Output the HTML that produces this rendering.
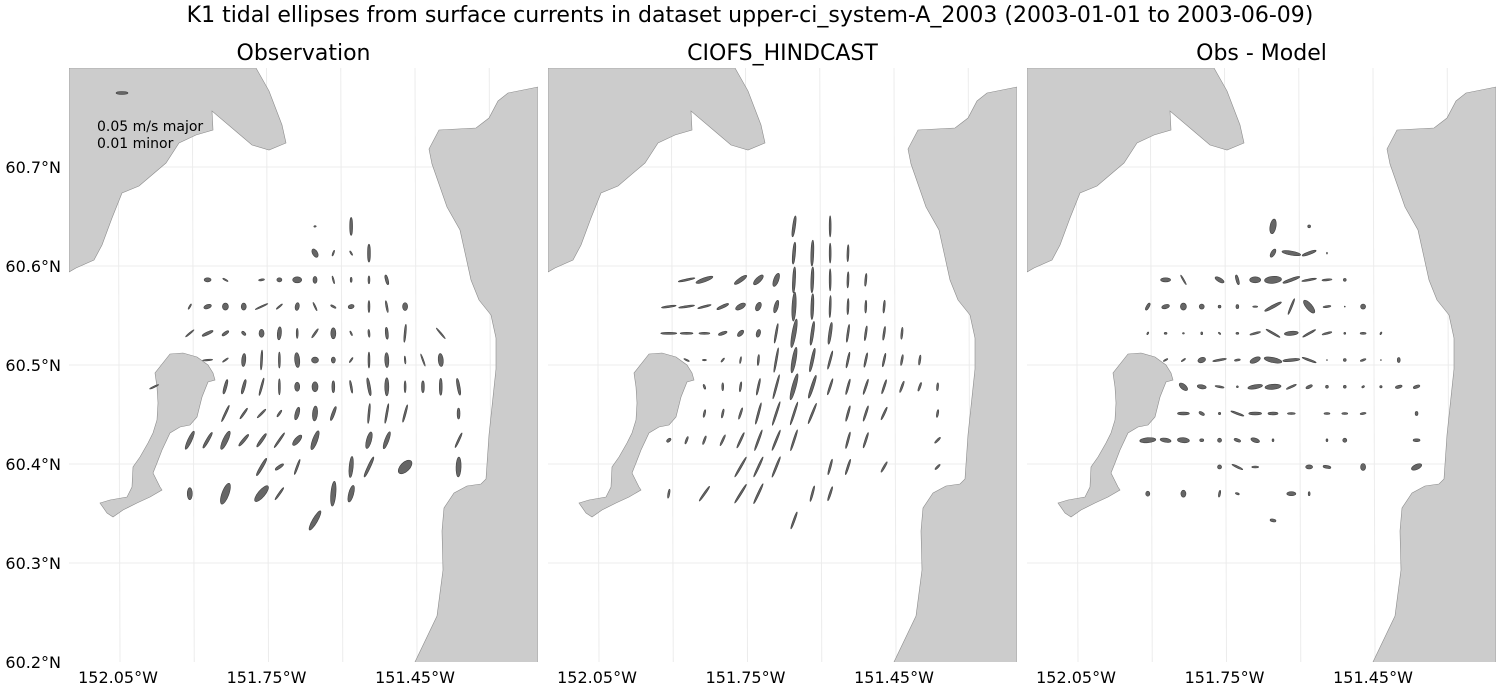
<!DOCTYPE html>
<html><head><meta charset="utf-8"><style>
html,body{margin:0;padding:0;background:#fff;}
svg{display:block;font-family:"DejaVu Sans","Liberation Sans",sans-serif;}
</style></head><body>
<svg id="fig" width="1500" height="700" viewBox="0 0 1500 700">
<text x="750" y="22" font-size="22" text-anchor="middle">K1 tidal ellipses from surface currents in dataset upper-ci_system-A_2003 (2003-01-01 to 2003-06-09)</text>
</svg>
<script>
const panelTitles = ["Observation", "CIOFS_HINDCAST", "Obs - Model"];
const latTicks = [60.7, 60.6, 60.5, 60.4, 60.3, 60.2];
const latTickLabels = ["60.7°N","60.6°N","60.5°N","60.4°N","60.3°N","60.2°N"];
const lonTicks = [-152.05, -151.75, -151.45];
const lonTickLabels = ["152.05°W","151.75°W","151.45°W"];
const lonGrid = [-152.05,-151.9,-151.75,-151.6,-151.45,-151.3];
const latGrid = [60.7,60.6,60.5,60.4,60.3];
// grid node coordinates, col index -2..15 (offset 2), row index 0..11
const gridLons = [-151.977,-151.941,-151.905,-151.869,-151.833,-151.796,-151.760,-151.724,-151.688,-151.652,-151.615,-151.579,-151.543,-151.507,-151.470,-151.434,-151.398,-151.362];
const gridLats = [60.640,60.613,60.586,60.559,60.532,60.505,60.478,60.451,60.424,60.397,60.370,60.343];
// [col,row,major(cm/s),minor(cm/s),angle deg ccw from east]
const obsEllipses = [
[7,0,1.0,0.6,10],[9,0,7.5,1.2,90],
[7,1,3.8,2.1,120],[8,1,2.5,0.6,70],[9,1,2.1,0.6,120],[10,1,7.5,1.2,90],
[1,2,2.9,1.7,0],[2,2,2.5,0.6,150],[4,2,2.5,0.8,10],[5,2,2.1,1.7,0],[6,2,3.8,2.5,0],[7,2,2.9,1.7,90],[8,2,3.3,0.6,105],[9,2,2.1,0.8,90],[10,2,3.3,0.8,90],[11,2,4.2,1.2,105],
[0,3,2.5,0.6,60],[1,3,3.3,1.7,20],[2,3,2.9,2.5,90],[3,3,2.9,2.1,90],[4,3,5.8,0.6,25],[5,3,3.3,0.6,40],[6,3,3.3,1.7,80],[7,3,3.8,0.6,115],[8,3,2.5,0.8,150],[9,3,2.5,1.7,15],[10,3,5.0,0.8,90],[11,3,5.0,0.8,100],[12,3,3.3,2.1,90],
[0,4,4.6,0.6,40],[1,4,5.0,1.2,25],[2,4,3.3,1.2,35],[3,4,2.1,1.2,135],[4,4,3.3,2.1,90],[5,4,5.4,1.7,85],[6,4,4.2,0.8,90],[7,4,4.6,0.8,55],[8,4,4.6,2.1,90],[9,4,2.1,0.6,115],[10,4,3.3,0.8,95],[11,4,5.0,1.2,95],[12,4,7.5,0.8,85],[14,4,5.8,0.6,130],
[1,5,4.2,0.6,5],[2,5,2.9,0.6,35],[3,5,5.4,1.7,85],[4,5,8.3,0.8,87],[5,5,6.7,0.8,90],[6,5,6.2,2.1,95],[7,5,2.9,2.5,0],[8,5,2.5,1.7,90],[9,5,2.5,0.6,55],[10,5,6.7,0.8,90],[11,5,6.2,1.7,92],[12,5,3.3,0.6,95],[13,5,5.4,0.6,110],[14,5,5.4,2.1,95],
[-2,6,4.2,0.6,25],[2,6,6.2,1.2,75],[3,6,6.2,1.2,75],[4,6,7.5,0.8,75],[5,6,6.7,0.8,90],[6,6,3.8,2.1,90],[7,6,4.2,2.5,90],[8,6,5.0,1.2,90],[9,6,5.4,0.8,100],[10,6,7.5,1.2,100],[11,6,7.5,1.7,90],[12,6,5.0,0.8,90],[13,6,5.0,1.2,90],[14,6,7.1,1.2,90],[15,6,7.1,1.2,100],
[2,7,7.5,0.8,65],[3,7,5.4,0.8,55],[4,7,5.0,0.8,45],[5,7,3.3,0.8,55],[6,7,5.4,1.7,75],[7,7,6.2,2.1,85],[8,7,6.2,1.2,70],[10,7,8.3,0.8,85],[11,7,8.3,0.8,80],[12,7,7.5,0.8,75],[15,7,4.6,1.2,90],
[0,8,8.3,1.7,65],[1,8,7.5,1.2,60],[2,8,8.3,2.1,65],[3,8,6.2,1.2,50],[4,8,6.7,1.2,55],[5,8,7.5,0.8,55],[6,8,5.4,2.1,50],[7,8,8.3,2.1,70],[10,8,7.1,2.1,75],[11,8,7.5,1.7,70],[15,8,6.7,0.8,65],
[4,9,8.3,1.2,60],[5,9,4.2,1.2,35],[6,9,6.7,0.8,70],[9,9,8.8,1.7,85],[10,9,9.2,1.2,65],[12,9,7.1,3.8,45],[15,9,8.3,2.1,88],
[0,10,5.0,2.1,90],[2,10,9.2,2.9,70],[4,10,8.3,2.9,50],[5,10,6.2,0.8,55],[8,10,10.4,2.1,85],[9,10,7.1,2.1,75],
[7,11,9.2,2.1,60]
];
const modelEllipses = [
[7,0,8.8,1.2,82],[9,0,8.8,0.8,90],
[7,1,9.2,1.2,85],[8,1,10.8,1.2,88],[9,1,8.3,0.8,90],[10,1,7.1,0.8,88],
[1,2,7.1,0.8,12],[2,2,7.5,1.7,20],[4,2,6.2,1.7,35],[5,2,5.4,2.1,45],[6,2,5.8,2.1,70],[7,2,10.8,1.2,87],[8,2,10.8,1.2,88],[9,2,9.2,0.8,90],[10,2,6.7,0.8,88],[11,2,5.4,0.8,85],
[0,3,6.2,0.8,8],[1,3,6.7,0.8,8],[2,3,5.8,0.8,15],[3,3,5.4,1.2,25],[4,3,4.6,2.1,30],[5,3,3.8,2.1,65],[6,3,5.4,1.7,75],[7,3,12.1,1.7,87],[8,3,10.8,1.2,88],[9,3,9.2,0.8,88],[10,3,6.7,0.8,88],[11,3,5.4,0.8,88],[12,3,5.4,0.8,85],
[0,4,6.7,0.8,0],[1,4,5.4,0.8,0],[2,4,4.6,0.8,0],[3,4,3.8,1.2,20],[4,4,3.3,1.7,45],[5,4,3.3,1.7,75],[6,4,8.3,0.8,80],[7,4,12.1,1.7,80],[8,4,10,1.2,82],[9,4,9.2,1.2,82],[10,4,7.5,0.8,82],[11,4,6.2,0.8,82],[12,4,5.8,0.8,82],[13,4,5.0,0.8,85],
[1,5,2.5,0.6,155],[2,5,1.7,0.6,0],[3,5,2.1,0.6,50],[4,5,2.9,0.6,80],[5,5,4.6,0.8,85],[6,5,10.4,0.8,80],[7,5,10.8,1.7,80],[8,5,10,1.2,78],[9,5,7.9,0.8,75],[10,5,6.7,0.8,78],[11,5,6.2,0.8,78],[12,5,5.8,0.8,78],[13,5,4.6,0.8,80],[14,5,4.2,0.8,82],
[2,6,2.1,0.8,110],[3,6,3.3,0.8,90],[4,6,4.2,0.8,82],[5,6,7.1,0.8,78],[6,6,10.4,0.8,75],[7,6,11.2,1.7,75],[8,6,10,1.2,72],[9,6,7.1,0.8,72],[10,6,6.7,0.8,75],[11,6,6.7,0.8,72],[12,6,6.2,0.8,72],[13,6,5.0,0.8,70],[14,6,3.8,0.8,70],[15,6,3.3,0.8,85],
[2,7,3.3,0.8,78],[3,7,3.8,0.8,78],[4,7,5.0,0.8,72],[5,7,9.2,0.8,75],[6,7,10.4,0.8,72],[7,7,10,0.8,72],[8,7,9.2,0.8,68],[10,7,6.7,0.8,75],[11,7,6.7,0.8,72],[12,7,5.8,0.8,65],[15,7,3.3,0.8,80],
[0,8,2.1,1.2,40],[1,8,3.3,0.8,70],[2,8,3.8,0.8,70],[3,8,5.0,0.8,65],[4,8,7.1,0.8,65],[5,8,9.2,0.8,70],[6,8,9.2,0.8,68],[7,8,9.2,0.8,72],[10,8,7.1,0.8,75],[11,8,6.7,0.8,72],[15,8,3.3,0.8,45],
[4,9,9.6,0.8,60],[5,9,9.2,0.8,65],[6,9,9.2,0.8,68],[9,9,6.7,0.8,75],[10,9,6.7,0.8,72],[12,9,5.0,0.8,60],[15,9,2.9,0.8,45],
[0,10,3.8,0.8,80],[2,10,7.5,0.8,55],[4,10,9.2,0.8,58],[5,10,9.2,0.8,65],[8,10,6.7,0.8,75],[9,10,6.2,0.8,72],
[7,11,7.5,0.8,70]
];
const diffEllipses = [
[7,0,6.2,2.5,80],[9,0,1.2,1.2,0],
[7,1,3.8,1.7,60],[8,1,7.9,1.7,170],[9,1,6.2,1.2,20],[10,1,0.8,0.4,90],
[1,2,4.2,1.7,0],[2,2,4.6,0.6,120],[4,2,4.2,1.7,150],[5,2,4.2,1.2,105],[6,2,4.6,2.5,0],[7,2,7.1,2.9,5],[8,2,7.5,1.2,20],[9,2,6.2,0.8,10],[10,2,4.2,0.8,5],[11,2,1.2,1.2,0],
[0,3,3.3,1.2,60],[1,3,3.3,1.7,15],[2,3,2.9,2.5,90],[3,3,2.1,2.1,0],[4,3,1.2,1.2,0],[5,3,1.7,1.2,90],[6,3,2.1,0.6,0],[7,3,7.9,1.2,28],[8,3,7.1,0.8,68],[9,3,6.7,2.5,130],[10,3,3.3,0.8,8],[11,3,0.4,0.4,0],[12,3,2.1,2.1,0],
[0,4,1.2,0.6,60],[1,4,1.2,0.8,0],[2,4,0.8,0.6,0],[3,4,1.2,0.8,90],[4,4,1.2,0.6,135],[5,4,1.2,0.8,0],[6,4,4.6,0.8,15],[7,4,6.7,0.8,150],[8,4,5.8,1.7,5],[9,4,6.2,0.8,30],[10,4,4.2,0.8,15],[11,4,0.8,0.8,0],[12,4,2.5,0.8,0],[13,4,1.2,0.6,60],
[1,5,2.1,0.6,30],[2,5,2.1,0.6,35],[3,5,3.3,2.1,20],[4,5,5.8,0.8,10],[5,5,2.5,0.8,10],[6,5,4.6,2.1,25],[7,5,7.5,2.1,168],[8,5,7.1,1.2,5],[9,5,6.2,0.8,160],[10,5,0.4,0.4,0],[11,5,1.2,1.2,0],[12,5,2.5,0.8,20],[13,5,0.4,0.4,0],[14,5,2.1,1.2,90],
[2,6,4.2,2.1,140],[3,6,3.8,1.7,170],[4,6,3.8,0.8,170],[5,6,0.8,0.8,0],[6,6,6.2,1.7,10],[7,6,6.7,2.1,5],[8,6,4.6,0.8,25],[9,6,2.9,1.2,25],[10,6,1.2,1.2,0],[11,6,1.2,1.2,0],[12,6,1.2,0.8,30],[13,6,1.0,1.0,0],[14,6,2.9,1.2,15],[15,6,2.9,1.2,20],
[2,7,5.0,1.2,0],[3,7,2.5,1.2,150],[4,7,1.0,1.0,0],[5,7,5.8,0.8,160],[6,7,5.4,1.2,0],[7,7,4.2,1.2,0],[8,7,3.3,0.8,0],[10,7,2.5,0.8,0],[11,7,2.5,0.8,0],[12,7,2.5,0.8,10],[15,7,1.7,1.2,90],
[0,8,6.7,2.1,5],[1,8,4.6,1.7,170],[2,8,5.0,2.1,175],[3,8,1.7,1.2,0],[4,8,1.7,1.7,0],[5,8,2.9,1.2,160],[6,8,3.8,1.7,160],[7,8,1.2,0.8,90],[10,8,1.2,0.8,90],[11,8,1.7,1.7,0],[15,8,2.9,1.2,0],
[4,9,1.7,1.7,0],[5,9,5.0,0.8,155],[6,9,2.9,0.8,0],[9,9,2.9,1.7,0],[10,9,3.3,1.2,170],[12,9,2.9,2.1,90],[15,9,4.6,2.1,25],
[0,10,2.1,1.7,90],[2,10,2.9,2.1,90],[4,10,2.9,0.8,80],[5,10,1.7,0.8,160],[8,10,3.8,1.7,0],[9,10,1.7,0.8,90],
[7,11,2.5,1.2,170]
];
const panelNames = ["observation","model","difference"];
const panelData = [obsEllipses, modelEllipses, diffEllipses];

const NS = "http://www.w3.org/2000/svg";
const svg = document.getElementById("fig");
const panelLeft = [69, 548, 1027], panelW = 469, plotTop = 68, plotBottom = 662;
const lonMin = -152.149, pxPerLon = 495, latMax = 60.8, pxPerLat = 990, pxPerCm = 2.4;
function xScale(p, lon){ return panelLeft[p] + (lon - lonMin) * pxPerLon; }
function yScale(lat){ return plotTop + (latMax - lat) * pxPerLat; }
function mk(tag, attrs, parent){ const e = document.createElementNS(NS, tag); for (const k in attrs) e.setAttribute(k, attrs[k]); parent.appendChild(e); return e; }

const landTL = "M0,0 L187,0 L200,23 L213,57 L217,75 L200,82 L183,77 L163,60 L143,43 L144,62 L127,67 L110,75 L97,95 L70,118 L53,125 L43,150 L33,177 L25,192 L7,200 L0,204 Z";
const landR = "M469,19 L439,25 L429,33 L420,50 L407,60 L370,62 L360,81 L363,96 L378,139 L391,162 L402,212 L410,232 L422,247 L427,270 L427,301 L420,367 L417,411 L412,416 L398,418 L385,425 L375,440 L373,463 L374,502 L368,548 L346,594 L346,600 L469,600 Z";
const island = "M101,286 L114,285 L128,289 L139,297 L144,305 L146,312 L139,314 L133,329 L128,349 L121,357 L111,359 L101,365 L93,382 L88,395 L84,405 L91,419 L93,422 L81,429 L68,435 L54,442 L44,449 L38,445 L31,435 L41,432 L58,429 L63,419 L64,399 L71,389 L79,375 L84,365 L88,352 L89,335 L88,319 L86,305 Z";

for (let p = 0; p < 3; p++){
  const g = mk("g", {}, svg);
  
  
  const cid = "clip" + p;
  const cp = mk("clipPath", {id: cid}, g);
  mk("rect", {x: panelLeft[p], y: plotTop, width: panelW, height: plotBottom - plotTop}, cp);
  const title = mk("text", {x: panelLeft[p] + panelW/2, y: 60, "font-size": 22, "text-anchor": "middle"}, g);
  title.textContent = panelTitles[p];
  
  
  const inner = mk("g", {"clip-path": "url(#" + cid + ")"}, g);
  lonGrid.forEach(lon => {
    const x = xScale(p, lon);
    const l = mk("line", {x1: x, x2: x + 2, y1: plotTop, y2: plotBottom, stroke: "#ececec", "stroke-width": 1}, inner);
    
    
  });
  latGrid.forEach(lat => {
    const y = yScale(lat);
    const l = mk("line", {x1: panelLeft[p], x2: panelLeft[p] + panelW, y1: y, y2: y, stroke: "#ececec", "stroke-width": 1}, inner);
    
    
  });
  const land = mk("g", {transform: "translate(" + panelLeft[p] + "," + plotTop + ")"}, inner);
  
  
  [landTL, landR, island].forEach(d => {
    const pth = mk("path", {d: d, fill: "#cccccc", stroke: "#8c8c8c", "stroke-width": 0.6}, land);
    
    
  });
  const eg = mk("g", {}, inner);
  
  
  panelData[p].forEach(e => {
    const cx = xScale(p, gridLons[e[0] + 2]);
    const cy = yScale(gridLats[e[1]]);
    const rx = Math.max(e[2] * pxPerCm / 2, 0.5), ry = Math.max(e[3] * pxPerCm / 2, 0.5);
    const el = mk("ellipse", {cx: cx, cy: cy, rx: rx, ry: ry, fill: "#666666", stroke: "#404040", "stroke-width": 0.6, transform: "rotate(" + (-e[4]) + " " + cx + " " + cy + ")"}, eg);
    
    
  });
  if (p === 0) {
    latTicks.forEach((lat, i) => {
      const t = mk("text", {x: panelLeft[p] - 8, y: yScale(lat) + 6, "font-size": 16, "text-anchor": "end"}, g);
      t.textContent = latTickLabels[i];
      
      
    });
  }
  lonTicks.forEach((lon, i) => {
    const t = mk("text", {x: xScale(p, lon), y: 683, "font-size": 16, "text-anchor": "middle"}, g);
    t.textContent = lonTickLabels[i];
    
    
  });
}
const legend = mk("g", {}, svg);


const lg = mk("ellipse", {cx: 122, cy: 93, rx: 5 * pxPerCm / 2, ry: 1.4, fill: "#666666", stroke: "#404040", "stroke-width": 0.6}, legend);


const lt1 = mk("text", {x: 97, y: 131, "font-size": 14}, legend);
lt1.textContent = "0.05 m/s major";


const lt2 = mk("text", {x: 97, y: 148, "font-size": 14}, legend);
lt2.textContent = "0.01 minor";


</script>
</body></html>
